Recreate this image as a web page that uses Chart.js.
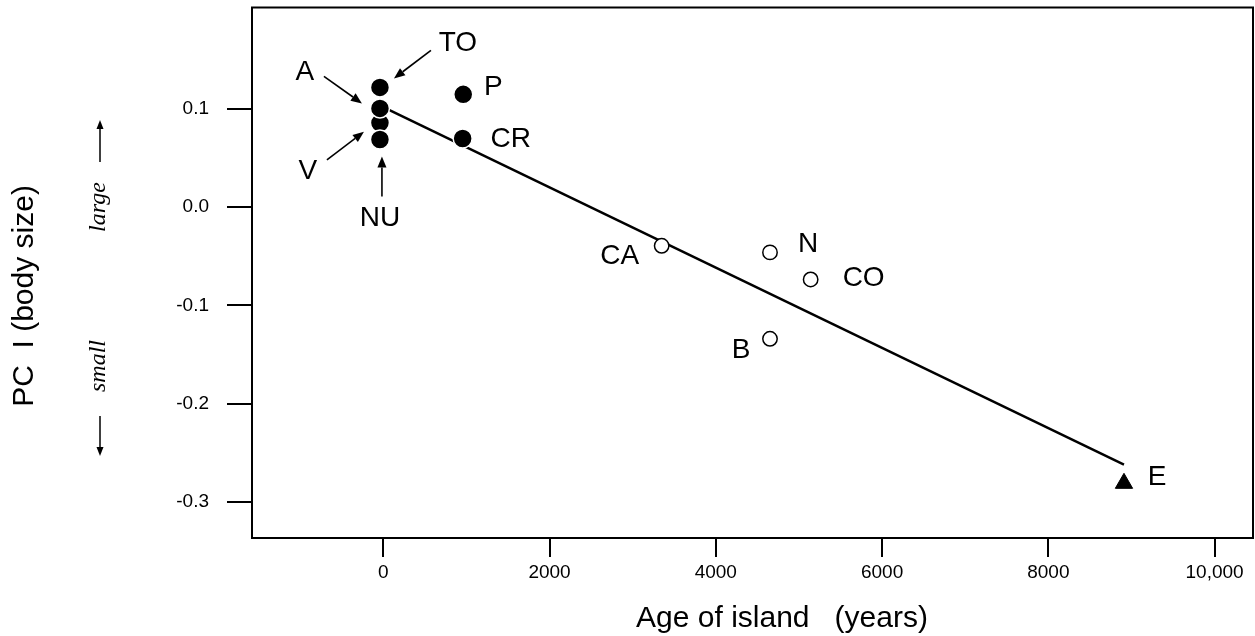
<!DOCTYPE html>
<html>
<head>
<meta charset="utf-8">
<script src="https://cdn.jsdelivr.net/npm/chart.js@4.4.1/dist/chart.umd.min.js"></script>
<style>
  html, body { margin: 0; padding: 0; background: #fff; }
  #wrap { width: 1255px; height: 636px; }
</style>
</head>
<body>
<div id="wrap"><canvas id="c" width="1255" height="636"></canvas></div>
<script>
// ---- data ----
const youngNames = ['V', 'A', 'NU', 'TO', 'P', 'CR'];
const youngAge   = [-40, -40, -40, -40, 962, 955];
const youngPC    = [0.086, 0.1007, 0.069, 0.1221, 0.115, 0.070];

const midNames = ['CA', 'N', 'CO', 'B'];
const midAge   = [3349, 4652, 5141, 4652];
const midPC    = [-0.0393, -0.046, -0.0736, -0.134];

const oldNames = ['E'];
const oldAge   = [8910];
const oldPC    = [-0.2813];

const fitAge = [0, 8910];
const fitPC  = [0.1021, -0.2622];

const xTickValues = [0, 2000, 4000, 6000, 8000, 10000];
const xTickLabels = ['0', '2000', '4000', '6000', '8000', '10,000'];
const yTickValues = [-0.3, -0.2, -0.1, 0.0, 0.1];
const yTickLabels = ['-0.3', '-0.2', '-0.1', '0.0', '0.1'];

const xTitle = 'Age of island   (years)';
const yTitle = 'PC  I (body size)';
const upWord = 'large';
const downWord = 'small';

// ---- styling / annotation layout (pixel offsets from each point) ----
const labelOffset = {
  TO: [78, -46], A: [-75, -38], V: [-72, 46], NU: [0, 76],
  P: [30, -9], CR: [48, -2], CA: [-42, 8], N: [38, -10],
  CO: [53, -3], B: [-29, 9], E: [33, -8]
};
const arrowOffset = {
  TO: [[51, -37], [14, -9]],
  A:  [[-56, -32], [-18, -5]],
  V:  [[-53, 37], [-16, 9]],
  NU: [[2, 57], [2, 17]]
};

const pts = (xs, ys) => xs.map((v, i) => ({ x: v, y: ys[i] }));

function arrow(ctx, x1, y1, x2, y2, head, half) {
  const ang = Math.atan2(y2 - y1, x2 - x1);
  const bx = x2 - head * Math.cos(ang), by = y2 - head * Math.sin(ang);
  ctx.beginPath();
  ctx.moveTo(x1, y1);
  ctx.lineTo(bx, by);
  ctx.stroke();
  ctx.beginPath();
  ctx.moveTo(x2, y2);
  ctx.lineTo(bx + half * Math.sin(ang), by - half * Math.cos(ang));
  ctx.lineTo(bx - half * Math.sin(ang), by + half * Math.cos(ang));
  ctx.closePath();
  ctx.fill();
}

const annot = {
  id: 'annot',
  afterDatasetsDraw(chart) {
    const { ctx, scales: { x, y }, chartArea: a } = chart;
    ctx.save();
    ctx.strokeStyle = '#000';
    ctx.fillStyle = '#000';
    ctx.lineWidth = 2;
    ctx.strokeRect(a.left, a.top, a.right - a.left, a.bottom - a.top);

    // point labels
    const names = youngNames.concat(midNames, oldNames);
    const ages = youngAge.concat(midAge, oldAge);
    const pcs = youngPC.concat(midPC, oldPC);
    ctx.font = '28px "Liberation Sans", Arial, sans-serif';
    ctx.textAlign = 'center';
    ctx.textBaseline = 'alphabetic';
    const pos = {};
    names.forEach((n, i) => {
      const px = x.getPixelForValue(ages[i]);
      const py = y.getPixelForValue(pcs[i]);
      pos[n] = [px, py];
      const o = labelOffset[n];
      ctx.fillText(n, px + o[0], py + o[1] + 10);
    });
    // pointer arrows
    ctx.lineWidth = 1.6;
    Object.keys(arrowOffset).forEach(n => {
      const [px, py] = pos[n];
      const [f, t] = arrowOffset[n];
      arrow(ctx, px + f[0], py + f[1], px + t[0], py + t[1], 11, 4.5);
    });

    // axis titles
    ctx.font = '30px "Liberation Sans", Arial, sans-serif';
    ctx.textAlign = 'center';
    ctx.textBaseline = 'alphabetic';
    ctx.fillText(xTitle, 782, 627);
    ctx.save();
    ctx.translate(33, 296);
    ctx.rotate(-Math.PI / 2);
    ctx.fillText(yTitle, 0, 0);
    ctx.restore();

    // large / small
    ctx.font = 'italic 24px "Liberation Serif", "Times New Roman", serif';
    ctx.textBaseline = 'middle';
    ctx.save();
    ctx.translate(99, 207);
    ctx.rotate(-Math.PI / 2);
    ctx.fillText(upWord, 0, 0);
    ctx.restore();
    ctx.save();
    ctx.translate(99, 366);
    ctx.rotate(-Math.PI / 2);
    ctx.fillText(downWord, 0, 0);
    ctx.restore();
    ctx.lineWidth = 1.5;
    arrow(ctx, 100, 162, 100, 120, 9, 3.5);
    arrow(ctx, 100, 416, 100, 456, 9, 3.5);
    ctx.restore();
  }
};

const zeroPad = s => { s.paddingLeft = 0; s.paddingRight = 0; s.paddingTop = 0; s.paddingBottom = 0; };

new Chart(document.getElementById('c'), {
  data: {
    datasets: [
      {
        type: 'scatter', order: 0,
        data: pts(youngAge, youngPC),
        pointStyle: 'circle', pointRadius: 9.5,
        backgroundColor: '#000', borderColor: '#fff', borderWidth: 1.5
      },
      {
        type: 'scatter', order: 0,
        data: pts(midAge, midPC),
        pointStyle: 'circle', pointRadius: 7.2,
        backgroundColor: '#fff', borderColor: '#000', borderWidth: 1.5
      },
      {
        type: 'scatter', order: 0,
        data: pts(oldAge, oldPC),
        pointStyle: 'triangle', pointRadius: 10,
        backgroundColor: '#000', borderColor: '#000', borderWidth: 1
      },
      {
        type: 'line', order: 5,
        data: pts(fitAge, fitPC),
        borderColor: '#000', borderWidth: 2.5, pointRadius: 0, fill: false, tension: 0
      }
    ]
  },
  options: {
    responsive: false,
    animation: false,
    events: [],
    devicePixelRatio: 1,
    layout: { autoPadding: false, padding: { left: 0, right: 2, top: 7.5, bottom: 0 } },
    plugins: { legend: { display: false }, tooltip: { enabled: false } },
    scales: {
      x: {
        type: 'linear', position: 'bottom',
        min: -1579, max: 10462,
        afterBuildTicks: s => { s.ticks = xTickValues.map(v => ({ value: v })); },
        afterFit: s => { s.height = 98; zeroPad(s); },
        ticks: {
          autoSkip: false, maxRotation: 0, padding: 4, color: '#000',
          font: { family: '"Liberation Sans", Arial, sans-serif', size: 19 },
          callback: (v, i) => xTickLabels[i]
        },
        grid: { drawOnChartArea: false, drawTicks: true, tickLength: 19, color: '#000', lineWidth: 2 },
        border: { display: true, color: '#000', width: 2 },
        title: { display: false }
      },
      y: {
        type: 'linear', position: 'left',
        min: -0.337, max: 0.2035,
        afterBuildTicks: s => { s.ticks = yTickValues.map(v => ({ value: v })); },
        afterFit: s => { s.width = 252; zeroPad(s); },
        ticks: {
          autoSkip: false, padding: 18, color: '#000',
          font: { family: '"Liberation Sans", Arial, sans-serif', size: 19 },
          callback: (v, i) => yTickLabels[i]
        },
        grid: { drawOnChartArea: false, drawTicks: true, tickLength: 25, color: '#000', lineWidth: 2 },
        border: { display: true, color: '#000', width: 2 },
        title: { display: false }
      }
    }
  },
  plugins: [annot]
});
</script>
</body>
</html>
